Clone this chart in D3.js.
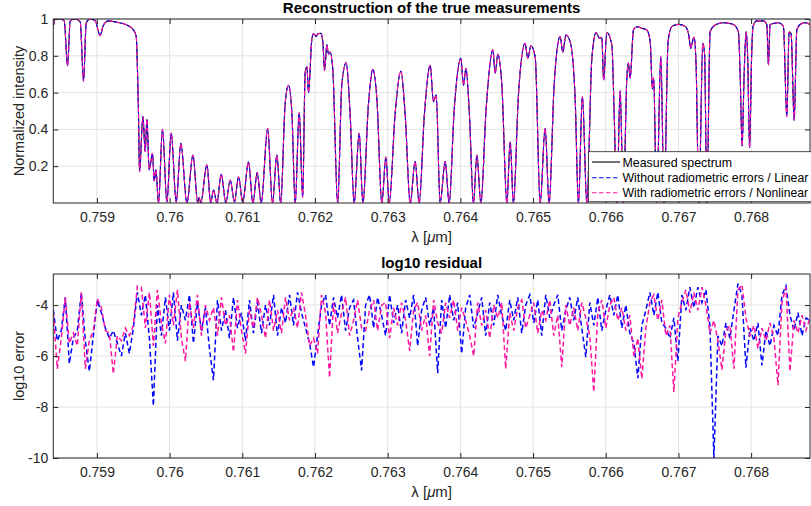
<!DOCTYPE html>
<html><head><meta charset="utf-8">
<script src="https://cdn.jsdelivr.net/npm/d3@7"></script>
<style>
body{margin:0;background:#fff;}
svg{font-family:"Liberation Sans",Arial,Helvetica,sans-serif;}
</style></head><body>
<svg id="chart" width="811" height="506"></svg>
<script>
// ---------------- DATA ----------------
const xTicks = [0.759,0.760,0.761,0.762,0.763,0.764,0.765,0.766,0.767,0.768];
const xTickLabels = ["0.759","0.76","0.761","0.762","0.763","0.764","0.765","0.766","0.767","0.768"];
const topYTicks = [0.2,0.4,0.6,0.8,1];
const topYTickLabels = ["0.2","0.4","0.6","0.8","1"];
const botYTicks = [-10,-8,-6,-4];
const botYTickLabels = ["-10","-8","-6","-4"];
const seriesNames = ["Measured spectrum","Without radiometric errors / Linear","With radiometric errors / Nonlinear"];
const seriesColors = ["#000000","#0000ff","#ff14a0"];

// wavelength [um] of turning points
const lambdaSpec = [0.758403,0.758426,0.758495,0.758550,0.758596,0.758633,0.758702,0.758770,0.758816,0.758853,
0.758908,0.758977,0.759045,0.759083,0.759114,0.759160,0.759275,0.759413,0.759503,0.759541,
0.759558,0.759572,0.759586,0.759633,0.759664,0.759688,0.759719,0.759765,0.759788,0.759812,
0.759847,0.759902,0.759963,0.760022,0.760091,0.760155,0.760238,0.760321,0.760387,0.760407,
0.760428,0.760513,0.760565,0.760604,0.760651,0.760710,0.760774,0.760834,0.760893,0.760948,
0.761006,0.761085,0.761146,0.761205,0.761260,0.761349,0.761415,0.761476,0.761528,0.761590,
0.761636,0.761682,0.761728,0.761783,0.761831,0.761865,0.761889,0.761911,0.761957,0.761979,
0.762017,0.762040,0.762081,0.762109,0.762131,0.762164,0.762186,0.762209,0.762246,0.762312,
0.762370,0.762429,0.762484,0.762539,0.762608,0.762659,0.762736,0.762796,0.762851,0.762920,
0.762975,0.763021,0.763103,0.763182,0.763241,0.763310,0.763378,0.763433,0.763506,0.763585,
0.763630,0.763667,0.763722,0.763791,0.763846,0.763915,0.764007,0.764043,0.764076,0.764125,
0.764180,0.764227,0.764282,0.764355,0.764447,0.764479,0.764516,0.764571,0.764640,0.764685,
0.764730,0.764799,0.764891,0.764928,0.764970,0.765029,0.765098,0.765166,0.765221,0.765290,
0.765373,0.765410,0.765451,0.765510,0.765579,0.765624,0.765679,0.765740,0.765809,0.765868,
0.765913,0.765946,0.765971,0.766015,0.766084,0.766115,0.766153,0.766198,0.766243,0.766290,
0.766312,0.766336,0.766381,0.766428,0.766497,0.766565,0.766611,0.766642,0.766659,0.766700,
0.766758,0.766803,0.766858,0.766913,0.767000,0.767092,0.767138,0.767171,0.767188,0.767216,
0.767243,0.767281,0.767336,0.767360,0.767391,0.767436,0.767505,0.767619,0.767757,0.767825,
0.767849,0.767876,0.767904,0.767931,0.767952,0.767979,0.768007,0.768027,0.768078,0.768169,
0.768216,0.768238,0.768261,0.768376,0.768444,0.768491,0.768523,0.768550,0.768592,0.768629,
0.768674,0.768743,0.768812];
// normalized intensity at those wavelengths
const measured = [0.967,1.0,1.0,0.99,0.746,0.99,1.0,0.985,0.663,0.98,
1.0,0.99,0.909,0.96,0.98,0.99,0.982,0.967,0.94,0.904,
0.72,0.49,0.17,0.47,0.28,0.455,0.18,0.27,0.12,0.18,
0.0,0.40,0.005,0.38,0.005,0.324,0.0,0.26,0.0,0.03,
0.0,0.207,0.0,0.07,0.0,0.156,0.0,0.125,0.005,0.143,
0.005,0.222,0.0,0.165,0.0,0.404,0.0,0.26,0.0,0.54,
0.64,0.49,0.0,0.49,0.03,0.71,0.74,0.6,0.89,0.92,
0.905,0.92,0.922,0.87,0.72,0.86,0.81,0.82,0.72,0.0,
0.65,0.762,0.478,0.0,0.379,0.0,0.54,0.727,0.57,0.0,
0.25,0.0,0.487,0.717,0.478,0.0,0.225,0.0,0.487,0.748,
0.55,0.587,0.0,0.225,0.0,0.505,0.786,0.64,0.732,0.478,
0.0,0.26,0.0,0.515,0.832,0.705,0.808,0.64,0.0,0.333,
0.0,0.587,0.868,0.786,0.855,0.795,0.0,0.406,0.0,0.64,
0.904,0.82,0.913,0.877,0.57,0.0,0.578,0.0,0.786,0.927,
0.895,0.9,0.668,0.927,0.86,0.5,0.0,0.61,0.0,0.678,
0.76,0.68,0.94,0.958,0.95,0.94,0.88,0.62,0.68,0.0,
0.795,0.0,0.88,0.96,0.971,0.96,0.92,0.84,0.87,0.9,
0.75,0.0,0.868,0.81,0.0,0.931,0.967,0.98,0.97,0.93,
0.7,0.31,0.7,0.93,0.8,0.30,0.8,0.96,0.99,0.99,
0.97,0.75,0.97,0.98,0.96,0.47,0.93,0.92,0.45,0.94,
0.97,0.98,0.97];
// the two reconstructions overlay the measurement at plot resolution
const reconLinear = measured.slice();
const reconNonlinear = measured.slice();

// residual sample grid (regular wavelength grid)
const residLambdaStart = 0.7584;
const residLambdaEnd = 0.76881;
// log10 residual, "Without radiometric errors / Linear"
const residLinear = [
-4.2,-5.4,-5.0,-3.7,-6.3,-5.3,-5.0,-3.5,-5.4,-6.6,
-5.2,-3.8,-4.3,-4.9,-5.3,-5.0,-5.5,-6.0,-5.1,-5.9,
-4.9,-3.5,-4.4,-3.6,-5.3,-7.95,-4.0,-5.2,-3.7,-5.0,
-3.5,-5.4,-4.0,-4.6,-3.6,-5.5,-3.9,-5.0,-4.1,-5.7,
-6.95,-3.8,-5.0,-4.2,-5.3,-3.7,-4.9,-4.3,-5.4,-3.8,
-5.1,-3.9,-5.1,-4.0,-4.8,-3.6,-5.2,-4.1,-4.7,-3.6,
-4.8,-3.5,-4.3,-4.9,-5.5,-6.43,-5.2,-4.0,-3.6,-4.8,
-3.7,-4.5,-3.6,-5.0,-4.1,-3.8,-5.3,-6.56,-4.0,-3.6,
-4.9,-3.7,-4.4,-5.2,-3.6,-4.7,-4.0,-5.1,-3.8,-4.5,
-3.6,-5.6,-4.2,-3.7,-4.8,-4.1,-6.67,-3.8,-4.9,-3.6,
-4.6,-3.9,-5.9,-4.1,-3.6,-4.9,-4.3,-3.7,-5.2,-3.9,
-4.8,-3.6,-4.4,-5.0,-3.8,-4.6,-3.7,-5.1,-4.0,-3.6,
-4.7,-3.8,-5.2,-3.6,-4.5,-4.0,-3.6,-5.0,-4.2,-3.7,
-4.6,-3.7,-4.9,-6.04,-3.9,-4.8,-3.7,-5.0,-4.2,-3.6,
-4.4,-3.6,-4.9,-4.0,-5.1,-5.5,-6.87,-4.8,-4.2,-3.5,
-4.4,-3.5,-4.7,-4.9,-5.3,-4.5,-6.2,-3.6,-4.2,-3.3,
-4.1,-3.3,-3.9,-3.4,-4.8,-10.0,-5.2,-5.6,-4.7,-5.3,
-4.2,-3.16,-3.6,-6.46,-4.9,-5.4,-4.7,-6.37,-5.0,-5.6,
-4.8,-5.2,-3.6,-3.25,-4.4,-5.0,-4.3,-5.2,-4.5,-4.6];
// log10 residual, "With radiometric errors / Nonlinear"
const residNonlinear = [
-4.3,-6.5,-5.3,-3.7,-5.5,-5.1,-5.6,-3.5,-6.5,-5.4,
-5.0,-3.75,-4.1,-5.0,-5.1,-6.7,-5.2,-5.4,-4.9,-5.2,
-4.8,-3.25,-3.3,-4.9,-3.5,-5.6,-3.4,-4.7,-5.5,-3.6,
-4.8,-3.4,-5.3,-6.2,-3.9,-4.9,-3.6,-5.2,-4.0,-4.6,
-4.1,-5.2,-3.7,-4.8,-4.4,-5.84,-3.8,-5.0,-5.9,-4.2,
-4.9,-3.7,-4.4,-5.3,-3.8,-5.0,-4.2,-5.1,-3.7,-4.6,
-4.1,-4.9,-3.5,-4.4,-5.6,-5.3,-5.9,-3.6,-4.3,-6.85,
-3.9,-5.1,-4.3,-3.7,-5.2,-4.6,-3.8,-4.9,-5.0,-4.2,
-3.8,-5.0,-4.0,-3.9,-5.3,-4.1,-4.8,-3.9,-4.6,-5.8,
-4.2,-3.9,-5.0,-4.4,-6.0,-3.8,-4.7,-5.1,-3.9,-4.5,
-3.8,-5.0,-4.1,-4.6,-5.2,-6.0,-3.9,-4.8,-4.2,-5.3,
-4.0,-4.5,-3.9,-6.5,-4.3,-5.0,-4.1,-3.8,-4.9,-4.4,
-3.9,-5.1,-4.2,-4.6,-3.8,-5.2,-4.4,-6.43,-4.0,-4.8,
-4.1,-5.0,-3.9,-4.5,-5.2,-7.41,-4.3,-3.8,-4.9,-4.0,
-3.7,-4.6,-4.1,-5.0,-4.4,-6.0,-5.3,-6.89,-4.9,-3.9,
-3.6,-4.6,-3.8,-5.2,-4.8,-7.41,-4.5,-3.9,-3.4,-4.3,
-3.5,-4.2,-3.3,-4.0,-5.1,-4.6,-5.4,-6.54,-5.0,-4.8,
-6.5,-3.4,-3.2,-4.5,-5.2,-4.8,-5.7,-4.9,-5.4,-4.7,
-5.3,-7.14,-3.9,-3.3,-6.6,-4.6,-5.1,-4.4,-5.0,-4.5];

// ---------------- DRAWING ----------------
const svg = d3.select("#chart");
const TXT = "#262626";
const FONT = '"Liberation Sans",Arial,Helvetica,sans-serif';
const L = 53.3, R = 810;
const top1 = 19, bot1 = 203, top2 = 274, bot2 = 458;

const x = d3.scaleLinear().domain([0.7584, 0.76881]).range([L, R]);
const yTop = d3.scaleLinear().domain([0, 1]).range([bot1, top1]);
const yBot = d3.scaleLinear().domain([-10, -2.78]).range([bot2, top2]);

const defs = svg.append("defs");
defs.append("clipPath").attr("id","clipTop").append("rect")
  .attr("x",L).attr("y",top1).attr("width",R-L).attr("height",bot1-top1);
defs.append("clipPath").attr("id","clipBot").append("rect")
  .attr("x",L).attr("y",top2).attr("width",R-L).attr("height",bot2-top2);

function panel(yScale, yT, yTL, t, b, clipId, title, ylabel) {
  const g = svg.append("g");
  // grid
  g.append("g").selectAll("line").data(xTicks).join("line")
    .attr("x1",d=>x(d)).attr("x2",d=>x(d)).attr("y1",t).attr("y2",b)
    .attr("stroke","#e3e3e3").attr("stroke-width",1);
  g.append("g").selectAll("line").data(yT).join("line")
    .attr("x1",L).attr("x2",R).attr("y1",d=>yScale(d)).attr("y2",d=>yScale(d))
    .attr("stroke","#e3e3e3").attr("stroke-width",1);
  const plot = g.append("g").attr("clip-path",`url(#${clipId})`);
  // axes
  const ax = svg.append("g");
  ax.append("g").attr("transform",`translate(0,${b})`)
    .call(d3.axisBottom(x).tickValues(xTicks).tickFormat((d,i)=>xTickLabels[i]).tickSize(-5).tickSizeOuter(0).tickPadding(9));
  ax.append("g").attr("transform",`translate(0,${t})`)
    .call(d3.axisTop(x).tickValues(xTicks).tickFormat("").tickSize(-5).tickSizeOuter(0));
  ax.append("g").attr("transform",`translate(${L},0)`)
    .call(d3.axisLeft(yScale).tickValues(yT).tickFormat((d,i)=>yTL[i]).tickSize(-5).tickSizeOuter(0).tickPadding(5));
  ax.append("g").attr("transform",`translate(${R},0)`)
    .call(d3.axisRight(yScale).tickValues(yT).tickFormat("").tickSize(-5).tickSizeOuter(0));
  ax.selectAll(".domain").remove();
  ax.selectAll(".tick line").attr("stroke",TXT).attr("stroke-width",1);
  ax.selectAll(".tick text").attr("fill",TXT).attr("font-size",14).attr("font-family",FONT);
  ax.append("rect").attr("x",L).attr("y",t).attr("width",R-L).attr("height",b-t)
    .attr("fill","none").attr("stroke",TXT).attr("stroke-width",1);
  // title
  svg.append("text").attr("x",(L+R)/2).attr("y",t-6).attr("text-anchor","middle")
    .attr("font-weight","bold").attr("font-size",15).attr("fill","#000").text(title);
  // x label
  const xl = svg.append("text").attr("x",(L+R)/2).attr("y",b+39).attr("text-anchor","middle")
    .attr("font-size",15).attr("fill",TXT);
  xl.append("tspan").text("\u03BB [");
  xl.append("tspan").attr("font-style","italic").text("\u03BC");
  xl.append("tspan").text("m]");
  // y label
  svg.append("text").attr("transform",`translate(23.5,${(t+b)/2}) rotate(-90)`)
    .attr("text-anchor","middle").attr("font-size",14.5).attr("fill",TXT).text(ylabel);
  return plot;
}

const plotTop = panel(yTop, topYTicks, topYTickLabels, top1, bot1, "clipTop",
  "Reconstruction of the true measurements", "Normalized intensity");
const plotBot = panel(yBot, botYTicks, botYTickLabels, top2, bot2, "clipBot",
  "log10 residual", "log10 error");

// top curves
const specPts = (vals) => lambdaSpec.map((l,i)=>[l, vals[i]]);
const lineTop = d3.line().x(d=>x(d[0])).y(d=>yTop(d[1])).curve(d3.curveMonotoneX);
plotTop.append("path").attr("d",lineTop(specPts(measured)))
  .attr("fill","none").attr("stroke",seriesColors[0]).attr("stroke-width",1.1);
plotTop.append("path").attr("d",lineTop(specPts(reconLinear)))
  .attr("fill","none").attr("stroke",seriesColors[1]).attr("stroke-width",1.1)
  .attr("stroke-dasharray","4.5,2.5").attr("stroke-dashoffset",2);
plotTop.append("path").attr("d",lineTop(specPts(reconNonlinear)))
  .attr("fill","none").attr("stroke",seriesColors[2]).attr("stroke-width",1.1)
  .attr("stroke-dasharray","4.5,2.5");

// residual curves
const nR = residLinear.length;
const residX = d3.scaleLinear().domain([0, nR-1]).range([residLambdaStart, residLambdaEnd]);
const lineBot = d3.line().x((d,i)=>x(residX(i))).y(d=>yBot(d));
plotBot.append("path").attr("d",lineBot(residLinear))
  .attr("fill","none").attr("stroke",seriesColors[1]).attr("stroke-width",1.5)
  .attr("stroke-dasharray","5,3");
plotBot.append("path").attr("d",lineBot(residNonlinear))
  .attr("fill","none").attr("stroke",seriesColors[2]).attr("stroke-width",1.5)
  .attr("stroke-dasharray","5,3");

// legend
const lg = svg.append("g");
lg.append("rect").attr("x",588.5).attr("y",151.7).attr("width",240).attr("height",50)
  .attr("fill","#fff").attr("stroke",TXT).attr("stroke-width",0.8);
const rows = [162, 177.7, 192.7];
seriesNames.forEach((n,i)=>{
  lg.append("line").attr("x1",592).attr("x2",620).attr("y1",rows[i]).attr("y2",rows[i])
    .attr("stroke",seriesColors[i]).attr("stroke-width",1.1)
    .attr("stroke-dasharray", i===0 ? null : "4.5,2.5");
  const tx = lg.append("text").attr("x",622.5).attr("y",rows[i]+4.5).attr("font-size",12.4)
    .attr("fill","#000").attr("font-family",FONT).text(n);
  // keep the legend entry inside the picture
  let fs = 12.4;
  while (tx.node().getComputedTextLength() > 809.5 - 622.5 && fs > 9) {
    fs -= 0.1; tx.attr("font-size", fs);
  }
});
</script>
</body></html>
